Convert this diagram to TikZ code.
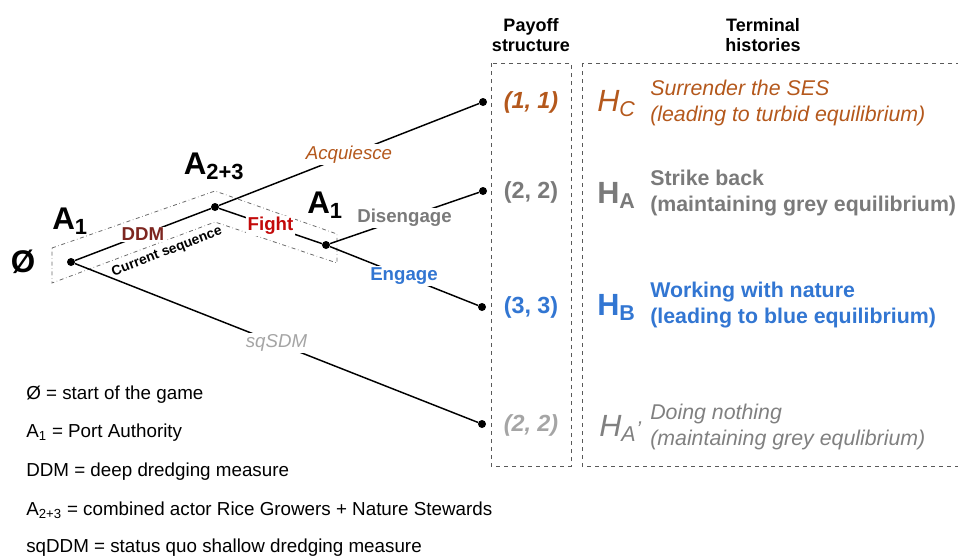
\documentclass[tikz,border=0pt]{standalone}
\usepackage{fontspec}
\setmainfont{Liberation Sans}
\definecolor{turbid}{RGB}{180,88,28}
\definecolor{greyeq}{RGB}{122,122,122}
\definecolor{blueeq}{RGB}{50,118,210}
\definecolor{lightgrey}{RGB}{165,165,165}
\definecolor{midgrey}{RGB}{128,128,128}
\definecolor{ddmred}{RGB}{125,38,32}
\definecolor{fightred}{RGB}{195,10,10}
\newcommand{\edgefont}{\fontsize{14}{16}\selectfont}
\newcommand{\bigfont}{\fontsize{23.5}{27}\selectfont}
\newcommand{\descfont}{\fontsize{16}{19.5}\selectfont}
\begin{document}
\begin{tikzpicture}[x=0.75pt,y=-0.75pt]

      \useasboundingbox (0,0) rectangle (958,558);

      % current sequence
      \draw[gray!85!black, dash dot, line width=.6pt] (52,248) -- (215,191) -- (337,234)
        -- (337,263) -- (215,222) -- (52,283) -- cycle;
      \node[rotate=21, inner sep=0pt, font=\bfseries\fontsize{10.3}{12}\selectfont] (cur) at (167,252) {Current sequence};

      % payoff and histories boxes
      \draw[gray!70!black, dashed, line width=.7pt] (491,63) rectangle (571,466);
      \draw[gray!70!black, dashed, line width=.7pt] (582,63) rectangle (968,466);

      \begin{scope}[every node/.style={circle, fill, inner sep=0pt, minimum size=6pt}]
        \node (o)   at (71,262)  {};
        \node (a23) at (215,207) {};
        \node (a1)  at (326,245) {};
        \node (c)   at (483,102) {};
        \node (g)   at (483,191) {};
        \node (b)   at (482,307) {};
        \node (sq)  at (482,424) {};
      \end{scope}

      \begin{scope}[every node/.style={fill=white, inner sep=1pt}]

        \begin{scope}[every edge/.style={draw, line width=1.1pt}]
          \path (o)   edge node[text=ddmred, font=\bfseries\edgefont] {DDM} (a23);
          \path (a23) edge node[text=fightred, font=\bfseries\edgefont] {Fight} (a1);
          \path (a23) edge node[text=turbid, font=\itshape\edgefont] {Acquiesce} (c);
          \path (a1)  edge node[text=greyeq, font=\bfseries\edgefont] {Disengage} (g);
          \path (a1)  edge node[text=blueeq, font=\bfseries\edgefont] {Engage} (b);
          \path (o)   edge node[text=lightgrey, font=\itshape\edgefont] {sqSDM} (sq);
        \end{scope}
      \end{scope}

      % players
      \begin{scope}[every node/.style={font=\bfseries\bigfont}]
        \node (start) at (23,262)  {Ø};
        \node (p1)    at (70,221)  {A\textsubscript{1}};
        \node (p23)   at (214,166) {A\textsubscript{2+3}};
        \node (p1b)   at (325,205) {A\textsubscript{1}};
      \end{scope}

      % headers
      \begin{scope}[every node/.style={align=center, font=\bfseries\fontsize{13.5}{15}\selectfont}]
        \node (payoff) at (531,35) {Payoff\\structure};
        \node (term)   at (763,35) {Terminal\\histories};
      \end{scope}

      % payoffs
      \begin{scope}[every node/.style={font=\bfseries\fontsize{17.5}{20}\selectfont}]
        \node[text=turbid, font=\bfseries\itshape\fontsize{17.5}{20}\selectfont] (pc) at (531,102) {(1, 1)};
        \node[text=greyeq]    (pa)  at (531,192) {(2, 2)};
        \node[text=blueeq]    (pb)  at (531,307) {(3, 3)};
        \node[text=lightgrey, font=\bfseries\itshape\fontsize{17.5}{20}\selectfont] (pa2) at (531,425) {(2, 2)};
      \end{scope}

      % terminal histories
      \begin{scope}[every node/.style={anchor=west, inner sep=0pt}]
        \node[text=turbid, font=\itshape\fontsize{23}{26}\selectfont] (hc) at (597,104) {H\textsubscript{C}};
        \node[text=turbid, font=\itshape\descfont, align=left] (dc) at (650,103)
          {Surrender the SES\\(leading to turbid equilibrium)};
        \node[text=greyeq, font=\bfseries\fontsize{23}{26}\selectfont] (ha) at (597,195) {H\textsubscript{A}};
        \node[text=greyeq, font=\bfseries\descfont, align=left] (da) at (650,193)
          {Strike back\\(maintaining grey equilibrium)};
        \node[text=blueeq, font=\bfseries\fontsize{23}{26}\selectfont] (hb) at (597,307) {H\textsubscript{B}};
        \node[text=blueeq, font=\bfseries\descfont, align=left] (db) at (650,305)
          {Working with nature\\(leading to blue equilibrium)};
        \node[text=midgrey, font=\itshape\fontsize{23}{26}\selectfont] (ha2) at (599,428)
          {H\textsubscript{A}{\descfont’}};
        \node[text=midgrey, font=\itshape\descfont, align=left] (da2) at (650,427)
          {Doing nothing\\(maintaining grey equlibrium)};
      \end{scope}

      % legend
      \begin{scope}[every node/.style={anchor=west, inner sep=0pt, font=\fontsize{14.1}{16}\selectfont}]
        \node (l1) at (26,395) {Ø = start of the game};
        \node (l2) at (26,433) {A\textsubscript{1} = Port Authority};
        \node (l3) at (26,472) {DDM = deep dredging measure};
        \node (l4) at (26,510) {A\textsubscript{2+3} = combined actor Rice Growers + Nature Stewards};
        \node (l5) at (26,548) {sqDDM = status quo shallow dredging measure};
      \end{scope}

    \end{tikzpicture}
\end{document}
